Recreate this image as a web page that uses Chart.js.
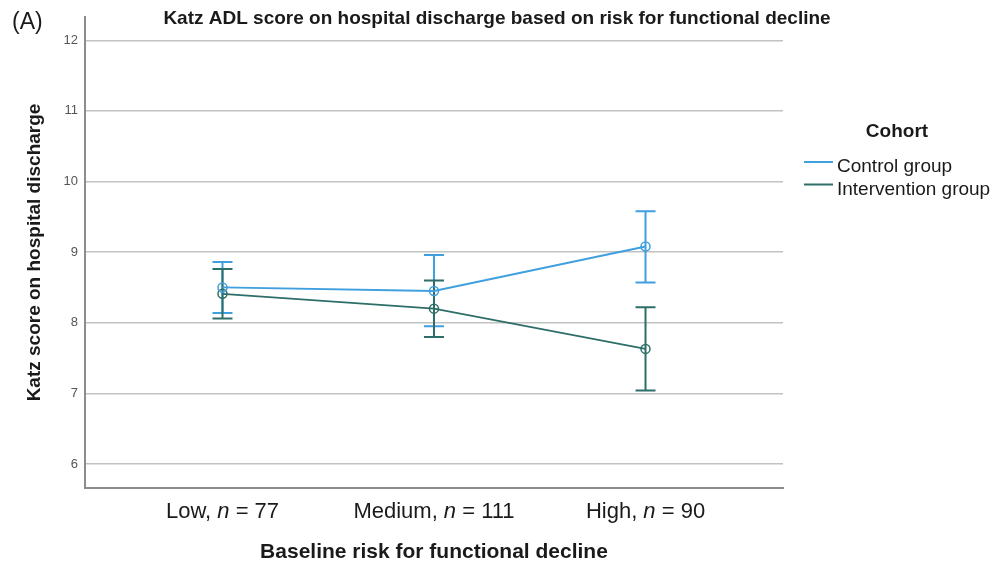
<!DOCTYPE html>
<html>
<head>
<meta charset="utf-8">
<script src="https://cdn.jsdelivr.net/npm/chart.js@4.4.1/dist/chart.umd.min.js"></script>
<style>
  html, body { margin: 0; padding: 0; background: #ffffff; }
  #wrap { width: 1002px; height: 567px; position: relative; }
</style>
</head>
<body>
<div id="wrap"><canvas id="c" width="1002" height="567"></canvas></div>
<script>
// ---- data ----
const categories = ['Low', 'Medium', 'High'];
const groupSizes = [77, 111, 90];
const controlMean = [8.50, 8.45, 9.08];
const controlLower = [8.14, 7.95, 8.57];
const controlUpper = [8.86, 8.96, 9.58];
const interventionMean = [8.41, 8.20, 7.63];
const interventionLower = [8.06, 7.80, 7.04];
const interventionUpper = [8.76, 8.60, 8.22];
const yTicks = [6, 7, 8, 9, 10, 11, 12];
const seriesLabels = ['Control group', 'Intervention group'];
const legendTitle = 'Cohort';
const chartTitle = 'Katz ADL score on hospital discharge based on risk for functional decline';
const panelLabel = '(A)';
const xTitle = 'Baseline risk for functional decline';
const yTitle = 'Katz score on hospital discharge';

const CONTROL = '#3f9fdf';
const INTERV = '#2d6e68';
const FONT = '"Liberation Sans", Arial, Helvetica, sans-serif';

function pts(mean, lo, hi) {
  return categories.map((c, i) => ({ x: i, y: mean[i], lo: lo[i], hi: hi[i] }));
}

const errorBars = {
  id: 'errorBars',
  beforeDatasetsDraw(chart) {
    const { ctx, scales: { x, y } } = chart;
    chart.data.datasets.forEach((ds) => {
      ctx.save();
      ctx.strokeStyle = ds.borderColor;
      ctx.lineWidth = 2;
      ds.data.forEach((p) => {
        const px = x.getPixelForValue(p.x);
        const yl = y.getPixelForValue(p.lo);
        const yh = y.getPixelForValue(p.hi);
        ctx.beginPath();
        ctx.moveTo(px, yl); ctx.lineTo(px, yh);
        ctx.moveTo(px - 10, yl); ctx.lineTo(px + 10, yl);
        ctx.moveTo(px - 10, yh); ctx.lineTo(px + 10, yh);
        ctx.stroke();
      });
      ctx.restore();
    });
  }
};

const decorations = {
  id: 'decorations',
  afterDraw(chart) {
    const { ctx, scales: { x } } = chart;
    ctx.save();
    ctx.fillStyle = '#1a1a1a';
    ctx.textBaseline = 'alphabetic';
    // panel label
    ctx.font = '23px ' + FONT;
    ctx.textAlign = 'left';
    ctx.fillText(panelLabel, 12, 29);
    // title
    ctx.font = 'bold 19px ' + FONT;
    ctx.textAlign = 'center';
    ctx.fillText(chartTitle, 497, 23.5);
    // x tick labels with italic n
    categories.forEach((c, i) => {
      const parts = [
        { t: c + ', ', f: '22px ' + FONT },
        { t: 'n', f: 'italic 22px ' + FONT },
        { t: ' = ' + groupSizes[i], f: '22px ' + FONT }
      ];
      let w = 0;
      parts.forEach(p => { ctx.font = p.f; p.w = ctx.measureText(p.t).width; w += p.w; });
      let cx = x.getPixelForValue(i) - w / 2;
      ctx.textAlign = 'left';
      parts.forEach(p => { ctx.font = p.f; ctx.fillText(p.t, cx, 518); cx += p.w; });
    });
    // legend
    ctx.font = 'bold 19px ' + FONT;
    ctx.textAlign = 'center';
    ctx.fillText(legendTitle, 897, 137);
    ctx.textAlign = 'left';
    ctx.font = '19px ' + FONT;
    chart.data.datasets.forEach((ds, i) => {
      const base = 172 + i * 22.5;
      ctx.strokeStyle = ds.borderColor;
      ctx.lineWidth = 2;
      ctx.beginPath();
      ctx.moveTo(804, base - 10); ctx.lineTo(833, base - 10);
      ctx.stroke();
      ctx.fillText(ds.label, 837, base);
    });
    ctx.restore();
  }
};

new Chart(document.getElementById('c'), {
  type: 'line',
  data: {
    datasets: [
      {
        label: seriesLabels[0],
        data: pts(controlMean, controlLower, controlUpper),
        borderColor: CONTROL,
        backgroundColor: 'transparent',
        borderWidth: 1.8,
        pointRadius: 4.5,
        pointBorderWidth: 1.5,
        pointBackgroundColor: 'transparent',
        pointBorderColor: CONTROL,
        tension: 0
      },
      {
        label: seriesLabels[1],
        data: pts(interventionMean, interventionLower, interventionUpper),
        borderColor: INTERV,
        backgroundColor: 'transparent',
        borderWidth: 1.8,
        pointRadius: 4.5,
        pointBorderWidth: 1.5,
        pointBackgroundColor: 'transparent',
        pointBorderColor: INTERV,
        tension: 0
      }
    ]
  },
  options: {
    responsive: false,
    animation: false,
    layout: { padding: { top: 17, right: 219, bottom: 0, left: 0 } },
    plugins: {
      legend: { display: false },
      title: { display: false },
      tooltip: { enabled: false }
    },
    scales: {
      x: {
        type: 'linear',
        min: -0.65,
        max: 2.65,
        afterBuildTicks(scale) { scale.ticks = categories.map((c, i) => ({ value: i })); },
        afterFit(scale) { scale.height = 79; },
        ticks: { display: false },
        grid: { display: false },
        border: { display: true, color: '#8c8c8c', width: 2 },
        title: {
          display: true,
          text: xTitle,
          color: '#1a1a1a',
          font: { family: FONT, size: 21, weight: 'bold' },
          padding: { top: 0, bottom: 2.5 }
        }
      },
      y: {
        type: 'linear',
        min: 5.66,
        max: 12.33,
        afterBuildTicks(scale) { scale.ticks = yTicks.map(v => ({ value: v })); },
        afterFit(scale) { scale.width = 85; },
        ticks: {
          color: '#555555',
          font: { family: FONT, size: 13 },
          padding: 7
        },
        grid: { color: '#c2c2c2', lineWidth: 1.5, drawTicks: false },
        border: { display: true, color: '#8c8c8c', width: 2 },
        title: {
          display: true,
          text: yTitle,
          color: '#1a1a1a',
          font: { family: FONT, size: 19, weight: 'bold' },
          padding: { top: 23.5, bottom: 0 }
        }
      }
    }
  },
  plugins: [errorBars, decorations]
});
</script>
</body>
</html>
